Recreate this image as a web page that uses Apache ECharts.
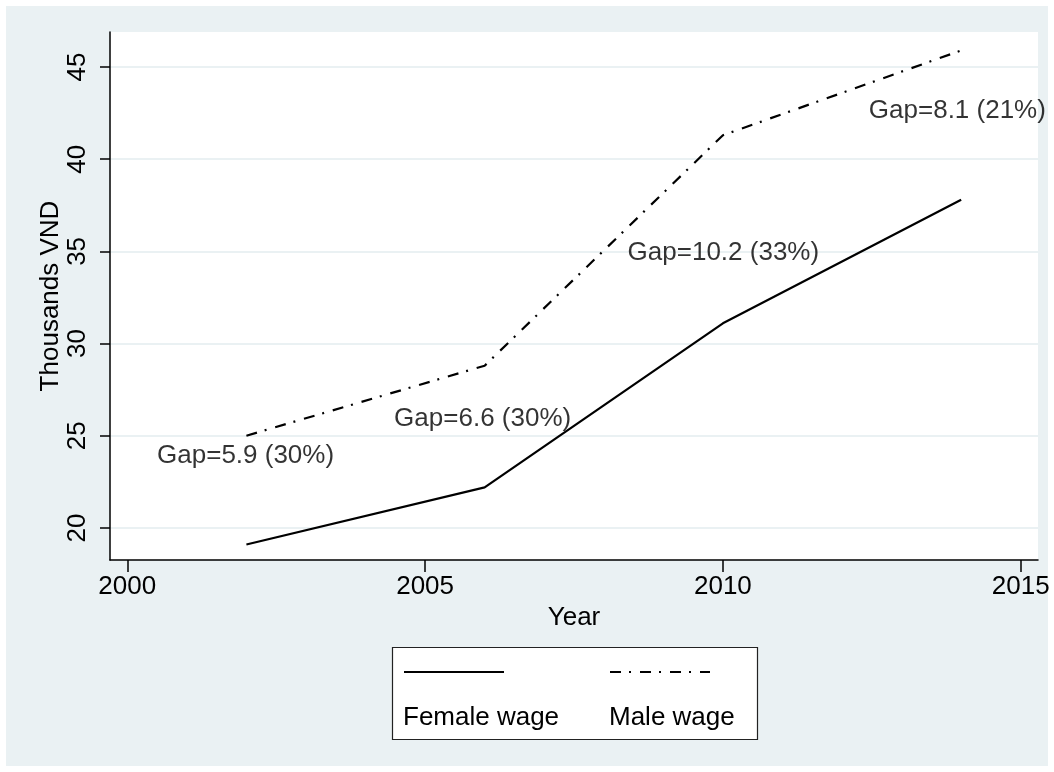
<!DOCTYPE html>
<html>
<head>
<meta charset="utf-8">
<script src="https://cdn.jsdelivr.net/npm/echarts@6/dist/echarts.min.js"></script>
<style>
  body { margin: 0; background: #fff; }
  #bg { position: absolute; left: 6px; top: 6px; width: 1042px; height: 760px; background: #eaf1f3; }
  #chart { position: absolute; left: 0; top: 0; width: 1054px; height: 772px; }
</style>
</head>
<body>
<div id="bg"></div>
<div id="chart"></div>
<script>
// Survey years and wages (thousands VND)
const years = [2002, 2006, 2010, 2014];
const femaleWage = [19.1, 22.2, 31.1, 37.8];
const maleWage = [25.0, 28.8, 41.3, 45.9];

// Gap annotations (placed at data coordinates)
const gapX = [2000.5, 2004.48, 2008.4, 2012.45];
const gapY = [23.9, 25.9, 34.9, 42.6];
const gapText = ['Gap=5.9 (30%)', 'Gap=6.6 (30%)', 'Gap=10.2 (33%)', 'Gap=8.1 (21%)'];

// Tick labels
const xTicks = [2000, 2005, 2010, 2015];
const yTicks = [20, 25, 30, 35, 40, 45];

const font = 'Liberation Sans, Arial, Helvetica, sans-serif';
const chart = echarts.init(document.getElementById('chart'));

const option = {
    backgroundColor: 'transparent',
    animation: false,
    textStyle: { fontFamily: font, color: '#000' },
    grid: {
        left: 110, top: 32, right: 16, bottom: 212,
        show: true, backgroundColor: '#fff', borderWidth: 0
    },
    xAxis: {
        type: 'value',
        min: 1999.71,
        max: 2015.29,
        name: 'Year',
        nameLocation: 'middle',
        nameGap: 45,
        nameMoveOverlap: false,
        nameTextStyle: { fontSize: 26, color: '#000', fontFamily: font },
        axisLine: { show: true, lineStyle: { color: '#000', width: 1.5 } },
        axisTick: { show: true, length: 12, customValues: xTicks, lineStyle: { color: '#000', width: 1.5 } },
        axisLabel: {
            customValues: xTicks, fontSize: 26, color: '#000', margin: 14, fontFamily: font,
            formatter: v => String(v)
        },
        splitLine: { show: false }
    },
    yAxis: {
        type: 'value',
        min: 18.26,
        max: 46.9,
        name: 'Thousands VND',
        nameLocation: 'middle',
        nameGap: 46,
        nameMoveOverlap: false,
        nameTextStyle: { fontSize: 26, color: '#000', fontFamily: font },
        axisLine: { show: true, lineStyle: { color: '#000', width: 1.5 } },
        axisTick: { show: true, length: 10, customValues: yTicks, lineStyle: { color: '#000', width: 1.5 } },
        axisLabel: {
            customValues: yTicks, rotate: 90, fontSize: 26, color: '#000', margin: 19, fontFamily: font,
            formatter: v => String(v)
        },
        splitLine: { show: true, lineStyle: { color: '#eaf1f3', width: 2 } }
    },
    legend: [
        // line samples on the top row (symbol hidden)
        { data: ['Female wage'], left: 403, top: 665, padding: 0, itemWidth: 100, itemHeight: 14,
          itemStyle: { opacity: 0 }, formatter: () => '' },
        { data: ['Male wage'], left: 609, top: 665, padding: 0, itemWidth: 100, itemHeight: 14,
          itemStyle: { opacity: 0 }, formatter: () => '' },
        // labels on the second row
        { data: ['Female wage'], left: 398, top: 705, padding: 0, itemWidth: 0, itemHeight: 0,
          icon: 'none', lineStyle: { width: 0 }, textStyle: { fontSize: 26, color: '#000', fontFamily: font } },
        { data: ['Male wage'], left: 604, top: 705, padding: 0, itemWidth: 0, itemHeight: 0,
          icon: 'none', lineStyle: { width: 0 }, textStyle: { fontSize: 26, color: '#000', fontFamily: font } }
    ],
    graphic: [{
        type: 'rect',
        z: -1,
        shape: { x: 392.5, y: 647.5, width: 365, height: 92 },
        style: { fill: '#fff', stroke: '#222', lineWidth: 1.2 }
    }],
    series: [
        {
            name: 'Female wage',
            type: 'line',
            symbol: 'none',
            data: years.map((y, i) => [y, femaleWage[i]]),
            lineStyle: { color: '#000', width: 2.2 },
            itemStyle: { color: '#000' }
        },
        {
            name: 'Male wage',
            type: 'line',
            symbol: 'none',
            data: years.map((y, i) => [y, maleWage[i]]),
            lineStyle: { color: '#000', width: 2.2, type: [11, 8, 2, 9] },
            itemStyle: { color: '#000' }
        },
        {
            name: 'gaps',
            type: 'scatter',
            symbolSize: 0,
            silent: true,
            data: gapX.map((x, i) => [x, gapY[i], gapText[i]]),
            label: {
                show: true,
                position: 'right',
                distance: 0,
                fontSize: 26,
                color: '#000',
                fontFamily: font,
                formatter: p => p.data[2]
            }
        }
    ]
};
chart.setOption(option);
</script>
</body>
</html>
